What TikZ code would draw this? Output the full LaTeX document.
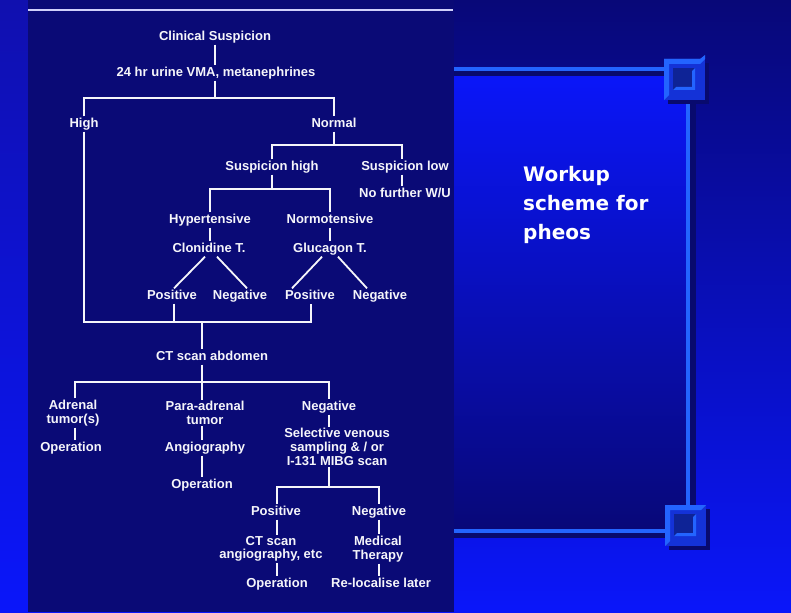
\documentclass[tikz,border=0pt]{standalone}
\usepackage{fontspec}
\newfontfamily\chartfont{Liberation Sans}
\newfontfamily\titlefont{DejaVu Sans}
\definecolor{navy}{RGB}{8,8,120}
\definecolor{panel}{RGB}{10,10,118}
\definecolor{bright}{RGB}{10,22,250}
\definecolor{stripTop}{RGB}{16,16,175}
\definecolor{frameLight}{RGB}{35,100,255}
\definecolor{frameMid}{RGB}{20,50,215}
\definecolor{frameDark}{RGB}{8,10,110}
\definecolor{inkwhite}{RGB}{245,245,250}
\begin{document}
\begin{tikzpicture}[x=1pt,y=-1pt,
  lbl/.style={font=\chartfont\bfseries\fontsize{13}{13.5}\selectfont, text=inkwhite, inner sep=1.5pt, text height=9.5pt, text depth=2.5pt},
  mlbl/.style={font=\chartfont\bfseries\fontsize{13}{13.5}\selectfont, text=inkwhite, inner sep=1.5pt, align=center},
  titletext/.style={font=\titlefont\bfseries\fontsize{20}{29}\selectfont, text=white, inner sep=0pt, anchor=base west},
  wire/.style={draw=inkwhite, line width=1.8pt},
]
\useasboundingbox (0,0) rectangle (791,612);
% backgrounds
\shade[top color=navy, bottom color=bright] (0,0) rectangle (791,612);
\shade[top color=stripTop, bottom color=bright] (0,0) rectangle (28,612);
\fill[panel] (28,0) rectangle (454,612);
\draw[draw=inkwhite!85!blue, line width=1.5pt] (28,10) -- (453,10);
% frame interior
\shade[top color=bright, bottom color=navy] (454,71) rectangle (687,530);
% frame borders
\fill[frameDark] (454,71) rectangle (668,76);
\fill[frameLight] (454,67) rectangle (668,71);
\fill[frameDark] (690,100) rectangle (696,506);
\fill[frameLight] (686,100) rectangle (690,506);
\fill[frameDark] (454,533) rectangle (666,538);
\fill[frameLight] (454,529) rectangle (666,533);
% top-right corner square
\fill[frameDark] (668,63) -- (709,63) -- (709,104) -- (668,104) -- cycle;
\fill[frameMid] (664,59) rectangle (705,100);
\fill[frameLight] (664,59) -- (705,59) -- (700,64) -- (669,64) -- (669,95) -- (664,100) -- cycle;
\fill[frameLight] (664,59) -- (700,59) -- (705,55) -- (705,59) -- cycle;
\fill[frameMid!70!black] (673,68) rectangle (695,90);
\fill[frameLight] (695,68) -- (695,90) -- (673,90) -- (676,87) -- (692,87) -- (692,71) -- cycle;
% bottom-right corner square
\fill[frameDark] (669,509) -- (710,509) -- (710,550) -- (669,550) -- cycle;
\fill[frameMid] (665,505) rectangle (706,546);
\fill[frameLight] (665,505) -- (706,505) -- (701,510) -- (670,510) -- (670,541) -- (665,546) -- cycle;
\fill[frameMid!70!black] (674,514) rectangle (696,536);
\fill[frameLight] (696,514) -- (696,536) -- (674,536) -- (677,533) -- (693,533) -- (693,517) -- cycle;
% title text
\node[titletext] (w1) at (523,182) {Workup};
\node[titletext] (w2) at (523,211) {scheme for};
\node[titletext] (w3) at (523,239) {pheos};
% flowchart nodes
\node[lbl] (cs) at (215,37) {Clinical Suspicion};
\node[lbl] (vma) at (216,73) {24 hr urine VMA, metanephrines};
\node[lbl] (high) at (84,124) {High};
\node[lbl] (normal) at (334,124) {Normal};
\node[lbl] (sh) at (272,167) {Suspicion high};
\node[lbl] (sl) at (405,167) {Suspicion low};
\node[lbl] (nf) at (405,194) {No further W/U};
\node[lbl] (hyp) at (210,220) {Hypertensive};
\node[lbl] (norm) at (330,220) {Normotensive};
\node[lbl] (clon) at (209,249) {Clonidine T.};
\node[lbl] (gluc) at (330,249) {Glucagon T.};
\node[lbl] (pos1) at (172,296) {Positive};
\node[lbl] (neg1) at (240,296) {Negative};
\node[lbl] (pos2) at (310,296) {Positive};
\node[lbl] (neg2) at (380,296) {Negative};
\node[lbl] (ct) at (212,357) {CT scan abdomen};
\node[mlbl] (adr) at (73,413) {Adrenal\\tumor(s)};
\node[lbl] (op1) at (71,448) {Operation};
\node[mlbl] (para) at (205,413) {Para-adrenal\\tumor};
\node[lbl] (angio) at (205,448) {Angiography};
\node[lbl] (op2) at (202,485) {Operation};
\node[lbl] (neg3) at (329,407) {Negative};
\node[mlbl, font=\chartfont\bfseries\fontsize{13}{14}\selectfont] (sel) at (337,447) {Selective venous\\sampling \& / or\\I-131 MIBG scan};
\node[lbl] (pos3) at (276,512) {Positive};
\node[lbl] (neg4) at (379,512) {Negative};
\node[mlbl] (ctang) at (271,549) {CT scan\\angiography, etc};
\node[mlbl] (med) at (378,549) {Medical\\Therapy};
\node[lbl] (op3) at (277,584) {Operation};
\node[lbl] (rel) at (381,584) {Re-localise later};
% junction coordinates
\coordinate (f1) at (215,98);
\coordinate (f2) at (334,145);
\coordinate (f3) at (272,189);
\coordinate (j3) at (202,322);
\coordinate (f4) at (202,382);
\coordinate (c1) at (75,382);
\coordinate (f5) at (329,487);
\coordinate (c5a) at (277,487);
\coordinate (c5b) at (379,487);
\coordinate (c2) at (210,200);
\coordinate (c4) at (402,160);
% connectors
\draw[wire] (cs.south -| f1) -- (vma.north -| f1);
\draw[wire] (vma.south -| f1) -- (f1);
\draw[wire] (high.north) |- (f1) -| (normal.north);
\draw[wire] (normal.south) -- (f2);
\draw[wire] (sh.north) |- (f2) -| (sl.north -| c4);
\draw[wire] (sl.south -| c4) -- (nf.north -| c4);
\draw[wire] (sh.south) -- (f3);
\draw[wire] (hyp.north) |- (f3) -| (norm.north);
\draw[wire] (hyp.south) -- (clon.north -| c2);
\draw[wire] (norm.south) -- (gluc.north);
\draw[wire] ([xshift=-4pt]clon.south) -- ([xshift=2pt]pos1.north);
\draw[wire] ([xshift=8pt]clon.south) -- ([xshift=7pt]neg1.north);
\draw[wire] ([xshift=-8pt]gluc.south) -- ([xshift=-18pt]pos2.north);
\draw[wire] ([xshift=8pt]gluc.south) -- ([xshift=-13pt]neg2.north);
\draw[wire] (high.south) |- (j3) -| ([xshift=1pt]pos2.south);
\draw[wire] ([xshift=2pt]pos1.south) -- ([xshift=2pt]pos1.south |- j3);
\draw[wire] (j3) -- (j3 |- ct.north);
\draw[wire] (j3 |- ct.south) -- (f4);
\draw[wire] (c1 |- adr.north) |- (f4) -| (neg3.north);
\draw[wire] (f4) -- (f4 |- para.north);
\draw[wire] (c1 |- adr.south) -- (c1 |- op1.north);
\draw[wire] (f4 |- para.south) -- (f4 |- angio.north);
\draw[wire] (f4 |- angio.south) -- (f4 |- op2.north);
\draw[wire] (neg3.south) -- (neg3.south |- sel.north);
\draw[wire] (f5 |- sel.south) -- (f5);
\draw[wire] (c5a |- pos3.north) |- (f5) -| (neg4.north);
\draw[wire] (c5a |- pos3.south) -- (c5a |- ctang.north);
\draw[wire] (c5b |- neg4.south) -- (c5b |- med.north);
\draw[wire] (c5a |- ctang.south) -- (c5a |- op3.north);
\draw[wire] (c5b |- med.south) -- (c5b |- rel.north);
\end{tikzpicture}
\end{document}
